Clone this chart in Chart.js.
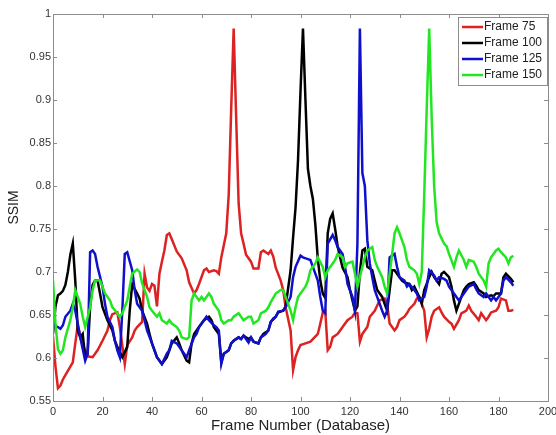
<!DOCTYPE html>
<html>
<head>
<meta charset="utf-8">
<script src="https://cdn.jsdelivr.net/npm/chart.js@4.4.0/dist/chart.umd.min.js"></script>
<style>
  html, body { margin: 0; padding: 0; background: #fff; }
  #wrap { width: 556px; height: 435px; }
</style>
</head>
<body>
<div id="wrap"><canvas id="ssimChart" width="556" height="435"></canvas></div>
<script>
const seriesLabels = ['Frame 75', 'Frame 100', 'Frame 125', 'Frame 150'];
const seriesColors = ['#dc2222', '#000000', '#1010cc', '#22e622'];
const xTicks = [0, 20, 40, 60, 80, 100, 120, 140, 160, 180, 200];
const yTicks = [0.55, 0.6, 0.65, 0.7, 0.75, 0.8, 0.85, 0.9, 0.95, 1];

const redFrames = [0,1,2,3,4,5,6,8,9,10,12,13,14,16,18,20,22,23,24,26,27,29,30,32,33,34,36,37,38,39,40,41,42,43,44,45,46,47,48,50,52,54,55,57,58,59,61,62,63,65,66,67,68,70,71,72,73,74,75,76,77,78,80,81,83,84,85,87,88,89,90,92,93,94,96,97,98,99,100,102,104,105,107,108,109,110,111,112,113,115,116,117,119,121,122,123,124,125,127,128,130,131,132,134,135,136,138,139,140,142,143,144,146,147,148,150,151,152,153,154,156,157,158,160,161,162,164,165,167,168,169,171,172,173,175,176,177,179,180,181,183,184,185,186];
const redSsim = [0.625,0.59,0.565,0.568,0.575,0.58,0.585,0.595,0.617,0.638,0.615,0.609,0.602,0.601,0.609,0.62,0.632,0.644,0.651,0.653,0.636,0.593,0.615,0.624,0.632,0.636,0.642,0.698,0.682,0.678,0.686,0.684,0.66,0.698,0.712,0.725,0.743,0.745,0.738,0.724,0.716,0.702,0.688,0.675,0.679,0.686,0.702,0.704,0.7,0.702,0.701,0.698,0.717,0.745,0.79,0.89,0.983,0.88,0.78,0.745,0.733,0.72,0.712,0.704,0.704,0.723,0.725,0.721,0.725,0.718,0.705,0.69,0.679,0.659,0.632,0.586,0.601,0.609,0.615,0.617,0.619,0.622,0.628,0.64,0.653,0.655,0.609,0.613,0.624,0.628,0.632,0.636,0.644,0.648,0.653,0.652,0.619,0.628,0.636,0.648,0.655,0.661,0.667,0.669,0.663,0.64,0.632,0.636,0.644,0.648,0.652,0.657,0.663,0.669,0.671,0.655,0.624,0.634,0.648,0.655,0.659,0.653,0.648,0.642,0.64,0.634,0.644,0.652,0.655,0.661,0.655,0.648,0.644,0.652,0.644,0.648,0.653,0.655,0.659,0.669,0.667,0.655,0.655,0.656];

const blackFrames = [0,1,2,3,4,5,6,7,8,9,10,11,12,13,14,15,16,17,18,19,20,22,24,25,26,28,30,31,32,34,35,36,38,39,40,42,44,46,47,48,50,51,52,54,55,56,57,59,61,63,64,65,67,68,69,71,72,73,75,76,77,79,80,81,83,84,85,87,88,90,91,93,94,96,97,98,99,100,101,102,103,104,105,106,107,108,109,110,111,112,113,114,115,116,117,119,120,121,122,123,124,125,126,127,129,130,131,133,134,135,137,138,140,141,142,144,145,146,148,149,150,152,153,154,156,157,158,160,161,162,163,165,166,167,168,170,171,172,174,175,177,178,179,181,182,183,185,186];
const blackSsim = [0.628,0.66,0.673,0.675,0.678,0.685,0.7,0.72,0.733,0.69,0.632,0.624,0.628,0.601,0.605,0.66,0.685,0.69,0.69,0.675,0.659,0.644,0.632,0.62,0.613,0.601,0.613,0.655,0.686,0.675,0.669,0.655,0.64,0.628,0.617,0.601,0.593,0.601,0.609,0.617,0.624,0.617,0.609,0.597,0.595,0.617,0.628,0.636,0.644,0.648,0.644,0.636,0.628,0.595,0.605,0.609,0.617,0.62,0.624,0.622,0.626,0.622,0.624,0.619,0.617,0.624,0.628,0.632,0.642,0.648,0.653,0.655,0.66,0.702,0.74,0.775,0.83,0.91,0.983,0.9,0.82,0.8,0.785,0.755,0.715,0.69,0.675,0.67,0.745,0.762,0.768,0.75,0.73,0.717,0.705,0.694,0.679,0.667,0.655,0.66,0.7,0.725,0.727,0.706,0.702,0.69,0.679,0.671,0.663,0.655,0.702,0.702,0.694,0.69,0.688,0.686,0.679,0.683,0.671,0.663,0.679,0.694,0.7,0.694,0.686,0.698,0.7,0.694,0.683,0.667,0.655,0.671,0.679,0.683,0.686,0.688,0.684,0.679,0.675,0.671,0.673,0.672,0.675,0.675,0.694,0.698,0.692,0.688];

const blueFrames = [0,1,2,3,4,5,7,8,9,10,11,13,14,15,16,17,18,20,21,22,24,25,26,27,28,29,30,32,33,34,36,37,38,40,41,42,44,46,47,48,50,51,52,54,55,57,58,59,61,62,63,65,66,67,68,69,71,72,73,75,76,77,79,80,81,83,84,86,87,88,89,90,91,93,94,96,97,98,100,101,103,104,105,107,108,109,110,111,113,114,115,117,118,119,121,122,123,124,125,126,127,128,129,130,132,133,134,135,136,138,139,140,142,143,144,146,147,148,150,151,152,154,155,156,158,159,160,162,163,164,166,167,168,170,171,172,174,175,177,178,179,181,182,183,185,186];
const blueSsim = [0.645,0.637,0.636,0.634,0.638,0.648,0.655,0.663,0.655,0.64,0.624,0.597,0.605,0.723,0.725,0.721,0.706,0.683,0.663,0.648,0.636,0.62,0.609,0.601,0.655,0.721,0.723,0.702,0.679,0.663,0.655,0.644,0.632,0.617,0.609,0.601,0.593,0.605,0.609,0.62,0.617,0.613,0.609,0.601,0.609,0.624,0.628,0.636,0.644,0.648,0.644,0.638,0.636,0.632,0.593,0.605,0.609,0.617,0.62,0.624,0.622,0.626,0.618,0.624,0.619,0.617,0.624,0.628,0.632,0.642,0.646,0.648,0.654,0.655,0.659,0.671,0.694,0.706,0.719,0.717,0.715,0.714,0.706,0.69,0.671,0.655,0.652,0.733,0.743,0.737,0.729,0.721,0.706,0.686,0.671,0.655,0.733,0.983,0.815,0.8,0.737,0.71,0.694,0.679,0.663,0.655,0.648,0.655,0.717,0.721,0.706,0.694,0.69,0.683,0.686,0.679,0.675,0.667,0.671,0.683,0.702,0.696,0.69,0.694,0.692,0.69,0.683,0.675,0.671,0.667,0.675,0.679,0.683,0.686,0.68,0.675,0.671,0.675,0.667,0.671,0.667,0.675,0.69,0.694,0.688,0.684];

const greenFrames = [0,1,2,3,4,5,7,8,9,11,12,13,15,16,17,19,20,21,23,24,26,27,28,30,31,32,34,35,36,38,39,40,42,43,44,46,47,48,50,51,52,54,55,56,57,59,60,61,63,64,65,67,68,69,71,72,73,75,76,77,79,80,81,83,84,86,87,88,89,90,92,93,94,96,97,98,99,100,102,103,104,106,107,109,110,111,113,114,115,117,118,119,121,122,123,125,126,127,129,130,131,133,134,135,137,138,139,140,142,143,144,146,147,148,149,150,151,152,153,154,155,156,158,159,160,162,163,164,166,167,168,170,171,172,174,175,176,177,179,180,181,183,184,185,186];
const greenSsim = [0.69,0.64,0.61,0.605,0.609,0.624,0.644,0.659,0.679,0.663,0.648,0.636,0.659,0.679,0.69,0.69,0.683,0.675,0.667,0.659,0.652,0.648,0.652,0.667,0.683,0.698,0.703,0.7,0.687,0.671,0.659,0.655,0.648,0.652,0.644,0.64,0.644,0.64,0.636,0.632,0.624,0.622,0.624,0.667,0.675,0.667,0.671,0.667,0.675,0.671,0.663,0.655,0.644,0.64,0.644,0.644,0.648,0.652,0.648,0.644,0.648,0.648,0.64,0.644,0.652,0.655,0.659,0.665,0.67,0.675,0.679,0.679,0.671,0.655,0.644,0.659,0.671,0.675,0.683,0.69,0.702,0.71,0.717,0.706,0.694,0.702,0.71,0.714,0.721,0.717,0.706,0.71,0.712,0.698,0.683,0.706,0.717,0.725,0.729,0.714,0.706,0.694,0.683,0.675,0.72,0.745,0.752,0.745,0.729,0.714,0.706,0.702,0.698,0.686,0.7,0.79,0.89,0.983,0.88,0.8,0.758,0.745,0.733,0.73,0.721,0.706,0.717,0.725,0.714,0.706,0.714,0.712,0.706,0.698,0.69,0.683,0.71,0.717,0.725,0.727,0.723,0.717,0.71,0.717,0.719];

const allFrames = [redFrames, blackFrames, blueFrames, greenFrames];
const allSsim = [redSsim, blackSsim, blueSsim, greenSsim];

function toPoints(frames, values) {
    return frames.map((f, i) => ({ x: f, y: values[i] }));
}

const datasets = seriesLabels.map((label, i) => ({
    label: label,
    data: toPoints(allFrames[i], allSsim[i]),
    borderColor: seriesColors[i],
    borderWidth: 2.5,
    pointRadius: 0,
    tension: 0,
    order: seriesLabels.length - i
}));

const fontFamily = '"Liberation Sans", Arial, sans-serif';

// MATLAB style box with inward ticks on all four sides
const boxPlugin = {
    id: 'matlabBox',
    afterDatasetsDraw(chart) {
        const { ctx, chartArea: a, scales } = chart;
        ctx.save();
        ctx.strokeStyle = '#8c8c8c';
        ctx.lineWidth = 1;
        ctx.strokeRect(a.left + 0.5, a.top + 0.5, a.right - a.left, a.bottom - a.top);
        ctx.beginPath();
        xTicks.forEach(v => {
            const px = Math.round(scales.x.getPixelForValue(v)) + 0.5;
            ctx.moveTo(px, a.bottom); ctx.lineTo(px, a.bottom - 4);
            ctx.moveTo(px, a.top); ctx.lineTo(px, a.top + 4);
        });
        yTicks.forEach(v => {
            const py = Math.round(scales.y.getPixelForValue(v)) + 0.5;
            ctx.moveTo(a.left, py); ctx.lineTo(a.left + 4, py);
            ctx.moveTo(a.right, py); ctx.lineTo(a.right - 4, py);
        });
        ctx.stroke();
        ctx.restore();
    },
    afterDraw(chart) {
        // legend box in the top right corner of the plot
        const { ctx, chartArea: a } = chart;
        const w = 89, h = 68;
        const x0 = a.right - w - 1, y0 = a.top + 3;
        ctx.save();
        ctx.fillStyle = '#fff';
        ctx.fillRect(x0, y0, w, h);
        ctx.strokeStyle = '#8c8c8c';
        ctx.lineWidth = 1;
        ctx.strokeRect(x0 + 0.5, y0 + 0.5, w, h);
        ctx.font = '12px ' + fontFamily;
        ctx.textBaseline = 'middle';
        seriesLabels.forEach((label, i) => {
            const yy = y0 + 10 + i * 16;
            ctx.strokeStyle = seriesColors[i];
            ctx.lineWidth = 2.5;
            ctx.beginPath();
            ctx.moveTo(x0 + 4, yy); ctx.lineTo(x0 + 25, yy);
            ctx.stroke();
            ctx.fillStyle = '#222';
            ctx.fillText(label, x0 + 26, yy);
        });
        ctx.restore();
    }
};

new Chart(document.getElementById('ssimChart'), {
    type: 'line',
    data: { datasets: datasets },
    options: {
        responsive: false,
        animation: false,
        layout: { padding: { top: 14, right: 0, left: 0, bottom: 0 } },
        plugins: { legend: { display: false }, tooltip: { enabled: false } },
        scales: {
            x: {
                type: 'linear',
                min: 0,
                max: 200,
                afterBuildTicks: s => { s.ticks = xTicks.map(v => ({ value: v })); },
                afterFit: s => { s.height = 34; s.paddingRight = 8; s.paddingLeft = 0; },
                grid: { display: false, drawTicks: false },
                border: { display: false },
                ticks: {
                    padding: 4,
                    color: '#333',
                    font: { family: fontFamily, size: 11 },
                    maxRotation: 0
                },
                title: {
                    display: true,
                    text: 'Frame Number (Database)',
                    color: '#222',
                    font: { family: fontFamily, size: 15 },
                    padding: { top: 0, bottom: 0 }
                }
            },
            y: {
                type: 'linear',
                min: 0.55,
                max: 1,
                afterBuildTicks: s => { s.ticks = yTicks.map(v => ({ value: v })); },
                afterFit: s => { s.width = 53; },
                grid: { display: false, drawTicks: false },
                border: { display: false },
                ticks: {
                    padding: 2,
                    color: '#333',
                    font: { family: fontFamily, size: 11 },
                    callback: v => String(Number(v.toFixed(2)))
                },
                title: {
                    display: true,
                    text: 'SSIM',
                    color: '#222',
                    font: { family: fontFamily, size: 14 },
                    padding: { top: 6, bottom: 0 }
                }
            }
        }
    },
    plugins: [boxPlugin]
});
</script>
</body>
</html>
